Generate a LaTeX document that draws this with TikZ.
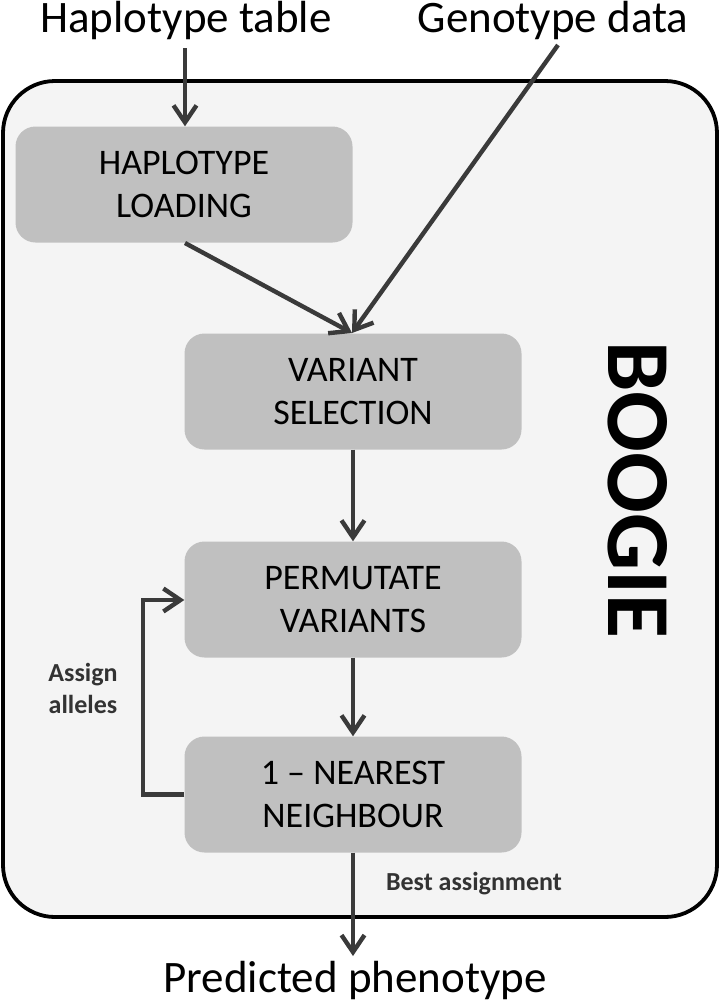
\documentclass[tikz,border=0pt]{standalone}
\usepackage{fontspec}
\setmainfont{Carlito}
\usetikzlibrary{arrows.meta}
\definecolor{outerfill}{HTML}{F4F4F4}
\definecolor{boxfill}{HTML}{C0C0C0}
\definecolor{arrowc}{HTML}{3A3A3A}
\definecolor{labelc}{HTML}{333333}
\tikzset{
  stepbox/.style={fill=boxfill, rounded corners=20pt, minimum width=337pt, minimum height=116pt, inner sep=0pt, align=center, font=\fontsize{36}{43}\selectfont},
  flow/.style={draw=arrowc, line width=4.4pt, -{Straight Barb[length=17pt,width=23pt,line width=4.4pt]}},
  titletext/.style={inner sep=0pt, font=\fontsize{45}{50}\selectfont},
  smalllabel/.style={inner sep=0pt, text=labelc, align=center, font=\bfseries\fontsize{26}{32}\selectfont}
}
\begin{document}
\begin{tikzpicture}[x=1pt,y=1pt]
\useasboundingbox (0,0) rectangle (720,-1005);
% outer container
\draw[fill=outerfill, line width=3.8pt, rounded corners=52pt] (3,-81) rectangle (717,-917);
% boxes
\node[stepbox] (hl) at (184,-184.5) {HAPLOTYPE\\LOADING};
\node[stepbox] (vs) at (353,-391.5) {VARIANT\\SELECTION};
\node[stepbox] (pv) at (353,-599.5) {PERMUTATE\\VARIANTS};
\node[stepbox] (nn) at (353,-794.5) {1 -- NEAREST\\NEIGHBOUR};
% titles
\node[titletext, anchor=base] (ht) at (186,-32) {Haplotype table};
\node[titletext, anchor=base] (gd) at (553,-32) {Genotype data};
\node[titletext, anchor=base] (pp) at (355,-992) {Predicted phenotype};
% BOOGIE
\node[inner sep=0pt, rotate=-90, font=\bfseries\fontsize{90}{90}\selectfont] (boogie) at (638,-490) {BOOGIE};
% labels
\node[smalllabel] (aa) at (83,-688) {Assign\\alleles};
\node[smalllabel, anchor=base] (ba) at (474,-890) {Best assignment};
% coordinates
\coordinate (htb) at (185,-48);
\coordinate (gdb) at (558,-45);
\coordinate (hlb) at (185,-243);
\coordinate (vst) at (352,-333);
\coordinate (ppt) at (353,-956);
\coordinate (fbl) at (143,-794.5);
\coordinate (fbu) at (143,-600);
% connectors
\draw[flow] (htb) -- (hl.north -| htb);
\draw[flow] (hlb) -- (vst);
\draw[flow] (gdb) -- (vst);
\draw[flow] (vs.south) -- (pv.north);
\draw[flow] (pv.south) -- (nn.north);
\draw[flow] (nn.south) -- (ppt);
\draw[flow] (nn.west) -- (fbl) -- (fbu) -- (pv.west |- fbu);
\end{tikzpicture}
\end{document}
